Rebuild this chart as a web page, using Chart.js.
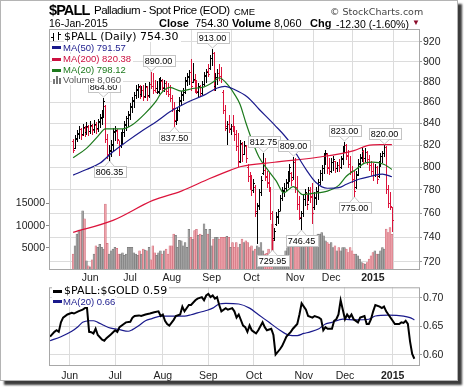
<!DOCTYPE html>
<html>
<head>
<meta charset="utf-8">
<script src="https://cdn.jsdelivr.net/npm/chart.js@4.4.1/dist/chart.umd.min.js"></script>
<style>
  body { margin: 0; background: #fff; font-family: 'Liberation Sans', Arial, sans-serif; }
  #frame { position: absolute; left: 0; top: 0; width: 458px; height: 381px; box-sizing: border-box;
           border: 1px solid #b4b4b4; box-shadow: 4px 4px 2px #3c3c3c; background: #fff; }
  canvas { position: absolute; left: 0; }
  .t { position: absolute; white-space: nowrap; line-height: 1; color: #000; }
  .b { font-weight: bold; }
  .dv { font-family: 'DejaVu Sans', Verdana, sans-serif; }
  .lg { background: #fff; padding-right: 2px; }
  .dash { position: absolute; width: 9px; height: 3px; }
</style>
</head>
<body>
<div id="frame"></div>
<canvas id="main" width="464" height="283" style="top:0"></canvas>
<canvas id="ratio" width="464" height="104" style="top:280px"></canvas>

<div class="t b" style="left:49px;top:2.5px;font-size:14.5px;letter-spacing:-0.9px">$PALL</div>
<div class="t" style="left:94px;top:5.3px;font-size:11.5px;letter-spacing:-0.5px">Palladium - Spot Price (EOD)</div>
<div class="t" style="left:234px;top:7px;font-size:9.5px">CME</div>
<div class="t dv" style="left:330px;top:6.5px;font-size:9.5px;color:#444">&copy; StockCharts.com</div>
<div class="t" style="left:49px;top:18px;font-size:10.5px">16-Jan-2015</div>
<div class="t b" style="left:159px;top:18px;font-size:11px">Close</div>
<div class="t" id="hClose" style="left:195px;top:18px;font-size:11px"></div>
<div class="t b" style="left:232px;top:18px;font-size:11px">Volume</div>
<div class="t" id="hVol" style="left:274px;top:18px;font-size:11px"></div>
<div class="t b" style="left:310px;top:18px;font-size:11px">Chg</div>
<div class="t" id="hChg" style="left:336px;top:18.5px;font-size:10.5px"></div>
<div class="t" style="left:412px;top:19px;font-size:8px;color:#8b0a2a">&#9660;</div>

<!-- price panel legend -->
<div class="t lg" style="left:51px;top:31px;width:10px;height:10px"></div>
<div class="dash" style="left:53px;top:33px;width:1px;height:8px;background:#000"></div>
<div class="dash" style="left:51px;top:37px;width:2px;height:1px;background:#000"></div>
<div class="dash" style="left:58px;top:32px;width:1px;height:8px;background:#000"></div>
<div class="dash" style="left:59px;top:34px;width:2px;height:1px;background:#000"></div>
<div class="t dv lg" id="lgPrice" style="left:64px;top:30.7px;font-size:11px"></div>
<div class="t lg" id="lgMa50" style="left:52px;top:42.7px;font-size:9.5px;color:#1a1a8c;padding-left:11px"></div>
<div class="dash" style="left:52px;top:46px;background:#1a1a8c"></div>
<div class="t lg" id="lgMa200" style="left:52px;top:54.3px;font-size:9.5px;color:#cc1040;padding-left:11px"></div>
<div class="dash" style="left:52px;top:57.5px;background:#cc1040"></div>
<div class="t lg" id="lgMa20" style="left:52px;top:65.3px;font-size:9.5px;color:#1d7a1d;padding-left:11px"></div>
<div class="dash" style="left:52px;top:68.5px;background:#1d7a1d"></div>
<div class="t lg" id="lgVol" style="left:52px;top:75.3px;font-size:9.5px;color:#555;padding-left:11px"></div>
<div class="dash" style="left:53px;top:79px;width:2px;height:5px;background:#777"></div>
<div class="dash" style="left:56px;top:76px;width:2px;height:8px;background:#777"></div>
<div class="dash" style="left:59px;top:78px;width:2px;height:6px;background:#777"></div>

<!-- ratio panel legend -->
<div class="t dv lg" id="lgRatio" style="left:52px;top:285px;font-size:11px;padding-left:12px"></div>
<div class="dash" style="left:53px;top:289.5px;background:#000"></div>
<div class="t lg" id="lgRatioMa" style="left:52px;top:297px;font-size:9.5px;color:#1a1a8c;padding-left:11px"></div>
<div class="dash" style="left:53px;top:300px;background:#1a1a8c"></div>

<script>
const FONT = "'Liberation Sans', Arial, sans-serif";

// trading days from 19 May 2014 (0) to 16 Jan 2015 (168)
const monthTicks = [9, 30, 52, 73, 94, 117, 136, 158];
const monthLabels = ['Jun', 'Jul', 'Aug', 'Sep', 'Oct', 'Nov', 'Dec', '2015'];
const priceTicks = [720, 740, 760, 780, 800, 820, 840, 860, 880, 900, 920];
const volumeTicks = [5000, 10000, 15000];
const ratioTicks = [0.60, 0.65, 0.70];

const highs = [
  826, 829, 834, 838, 836, 840, 838, 841, 839, 842,
  840, 843, 841, 844, 849, 853, 864.6, 858, 830, 820,
  825, 836, 838, 835, 824, 832, 835, 842, 847, 852,
  859, 865, 870, 877, 878, 877, 876, 877, 879, 876,
  880, 890, 889, 882, 881, 884, 885, 883, 882, 881,
  879, 877, 867, 860, 853, 856, 865, 871, 874, 885,
  889, 892, 903, 899, 888, 882, 879, 877, 881, 890,
  893, 898, 907, 913, 910, 889, 893, 898, 895, 872,
  858, 842, 848, 840, 848, 838, 834, 831, 825, 823,
  824, 820, 803, 796, 793, 790, 784, 769, 781, 792,
  812.75, 808, 797, 795, 783, 762, 748, 761, 764, 776,
  783, 786, 790, 797, 803, 796, 809, 808, 792, 775,
  762, 776, 781, 776, 783, 783, 786, 778, 783, 790,
  798, 802, 813, 816, 813, 808, 808, 810, 806, 805,
  807, 810, 819, 823, 821, 816, 810, 801, 797, 797,
  807, 812, 818, 816, 817, 815, 811, 806, 804, 803,
  801, 806, 813, 815, 820, 819, 784, 778, 765
];
const lows = [
  814, 817, 824, 827, 826, 829, 828, 830, 829, 831,
  830, 832, 831, 833, 837, 840, 846, 823, 808, 806.35,
  810, 815, 825, 822, 811, 818, 822, 828, 834, 838,
  844, 851, 856, 864, 865, 864, 866, 862, 865, 862,
  865, 874, 869, 871, 869, 869, 873, 872, 871, 868,
  866, 861, 852, 837.5, 840, 843, 852, 858, 862, 869,
  877, 878, 872, 880, 870, 869, 866, 866, 868, 877,
  880, 886, 893, 897, 872, 872, 878, 882, 880, 850,
  834, 821, 832, 830, 833, 825, 816, 801, 805, 806,
  812, 805, 788, 781, 776, 778, 758, 735, 764, 776,
  794, 789, 783, 779, 755, 729.95, 738, 750, 752, 763,
  771, 775, 780, 783, 788, 784, 790, 778, 764, 755,
  746.45, 758, 767, 764, 771, 770, 752, 764, 768, 772,
  785, 789, 795, 803, 795, 794, 796, 798, 796, 797,
  797, 799, 803, 814, 807, 800, 794, 787, 775, 782,
  793, 800, 806, 805, 806, 803, 798, 793, 789, 792,
  786, 791, 801, 805, 810, 777, 765, 764, 745
];
const opens = [
  824, 817, 826, 830, 835, 830, 836, 832, 837, 833,
  838, 835, 839, 836, 841, 845, 850, 857, 826, 811,
  815, 820, 832, 833, 825, 820, 829, 832, 839, 845,
  848, 856, 861, 867, 872, 875, 868, 872, 866, 875,
  867, 878, 876, 872, 874, 870, 878, 881, 874, 879,
  871, 868, 864, 855, 842, 849, 853, 861, 867, 870,
  881, 885, 890, 880, 882, 873, 870, 875, 869, 878,
  886, 891, 894, 904, 909, 876, 885, 889, 886, 870,
  853, 836, 840, 835, 838, 836, 830, 819, 806, 821,
  812, 819, 800, 792, 789, 780, 783, 760, 767, 778,
  795, 798, 791, 786, 781, 760, 739, 751, 757, 762,
  773, 779, 782, 786, 794, 795, 791, 805, 783, 768,
  756, 760, 772, 777, 768, 780, 775, 765, 773, 779,
  787, 795, 799, 809, 812, 800, 797, 805, 806, 799,
  802, 800, 807, 816, 820, 811, 803, 797, 790, 783,
  794, 803, 808, 815, 808, 814, 807, 802, 797, 793,
  800, 792, 803, 810, 813, 818, 781, 769, 765
];
const closes = [
  816, 827, 831, 835, 829, 837, 831, 838, 833, 839,
  834, 840, 835, 842, 846, 850, 861, 826, 812, 816,
  821, 833, 834, 826, 820, 830, 832, 840, 845, 849,
  857, 862, 867, 873, 876, 868, 872, 865, 876, 866,
  878, 876, 872, 870, 871, 879, 882, 875, 879, 871,
  868, 864, 855, 843, 850, 853, 862, 868, 870, 882,
  886, 890, 876, 883, 873, 871, 876, 869, 878, 887,
  890, 888, 904, 909, 876, 885, 889, 886, 883, 853,
  838, 840, 836, 838, 836, 830, 819, 805, 822, 812,
  820, 808, 792, 789, 780, 786, 762, 766, 778, 789,
  798, 792, 787, 782, 760, 738, 745, 758, 762, 773,
  780, 782, 787, 794, 800, 789, 805, 783, 768, 757,
  760, 772, 778, 768, 780, 774, 760, 774, 779, 787,
  795, 799, 810, 813, 799, 797, 805, 807, 799, 802,
  800, 808, 816, 820, 810, 803, 797, 790, 779, 793,
  804, 809, 815, 808, 814, 807, 802, 797, 793, 800,
  790, 803, 810, 813, 818, 781, 769, 766.6, 754.3
];
const volumes = [
  3600, 5460, 8100, 9000, 9000, 13360, 11550, 2070, 950, 700,
  2300, 3600, 5460, 5120, 5780, 5100, 4700, 14870, 6000, 3600,
  4300, 4700, 5100, 4900, 3600, 3600, 3900, 3300, 3600, 5100,
  5100, 5100, 3900, 3600, 3300, 4300, 3600, 4700, 4500, 4300,
  5100, 2300, 5460, 3900, 3300, 3900, 4300, 3600, 4300, 4700,
  3600, 5460, 5460, 8100, 7800, 5100, 6700, 6600, 5460, 6200,
  5100, 9200, 7400, 7000, 8900, 9200, 7800, 8100, 7800, 10400,
  9200, 8100, 9200, 5460, 7000, 7400, 7400, 7000, 7400, 7400,
  7400, 7600, 7400, 5100, 6200, 5100, 6200, 5080, 5840, 6970,
  6210, 6590, 6210, 5080, 5460, 4330, 4710, 5460, 5080, 6210,
  4330, 3590, 3740, 4700, 3800, 10360, 3590, 2820, 3200, 2820,
  2450, 2820, 4330, 5080, 5460, 5080, 5460, 5840, 6210, 7340,
  5840, 7340, 7340, 6970, 6590, 6970, 7340, 6970, 7340, 8100,
  8100, 8460, 7720, 6590, 6210, 5840, 6210, 5080, 5460, 4330,
  5080, 4330, 5080, 5080, 4710, 3960, 5080, 4330, 3590, 3590,
  3200, 2450, 1700, 1470, 1330, 1700, 2450, 3200, 3960, 4330,
  3590, 3590, 4330, 5080, 4710, 9220, 8460, 9600, 8060
];

// moving averages at the listed trading days
const ma50Days = [0, 7, 14, 21, 28, 37, 44, 51, 60, 69, 76, 80, 85, 92, 98, 106, 114, 118, 123, 128, 134, 140, 144, 151, 157, 163, 168];
const ma50Vals = [793, 798, 803.5, 814, 823, 834, 842, 851, 860, 867, 874, 875.5, 872.5, 865, 853.5, 839, 823, 811, 797.5, 786.5, 781.5, 782, 785, 789.6, 792, 794, 791.57];
const ma200Days = [0, 21, 42, 57, 72, 83, 88, 106, 129, 148, 155, 162, 168];
const ma200Vals = [744, 754, 771, 779, 790, 797.5, 800.5, 804.5, 809, 815, 819.5, 820.5, 820.38];
const ma20Days = [0, 7, 13, 17, 26, 31, 38, 44, 46, 51, 57, 63, 69, 74, 77, 82, 85, 88, 91, 95, 98, 102, 107, 111, 116, 121, 126, 134, 140, 144, 149, 154, 158, 164, 168];
const ma20Vals = [808.5, 817, 828, 835, 835, 838.6, 849.6, 862, 868, 874.5, 871, 873.5, 875, 880, 884, 876, 868, 858, 841, 821, 809, 799, 788, 777.5, 783, 776, 777, 779, 784, 792, 798, 804, 804.6, 802.5, 798.12];

// $PALL:$GOLD ratio and its MA(20)
const ratioDays = [0, 2, 3, 4, 5, 6, 8, 10, 11, 13, 15, 16, 17, 18, 19, 20, 21, 22, 24, 25, 26, 28, 30, 31, 32, 34, 35, 37, 38, 39, 41, 42, 44, 46, 48, 50, 51, 52, 53, 54, 55, 57, 58, 60, 61, 62, 64, 65, 67, 68, 70, 71, 72, 73, 74, 75, 76, 77, 78, 79, 81, 82, 84, 85, 86, 87, 89, 90, 91, 92, 93, 94, 95, 96, 98, 99, 100, 102, 103, 104, 106, 107, 108, 109, 111, 112, 114, 115, 116, 118, 119, 121, 122, 124, 125, 126, 127, 128, 130, 131, 132, 133, 134, 135, 136, 137, 138, 139, 140, 142, 143, 145, 146, 147, 148, 149, 150, 152, 153, 154, 155, 156, 158, 159, 161, 162, 163, 164, 165, 166, 167, 168];
const ratioVals = [0.6321, 0.6405, 0.6433, 0.6405, 0.6572, 0.6655, 0.671, 0.6738, 0.6727, 0.6766, 0.6794, 0.6822, 0.6835, 0.6405, 0.640, 0.6377, 0.646, 0.6349, 0.6266, 0.6249, 0.6294, 0.636, 0.6433, 0.6405, 0.6488, 0.6544, 0.6572, 0.6583, 0.6655, 0.6683, 0.6694, 0.6683, 0.671, 0.6727, 0.6749, 0.6766, 0.6683, 0.671, 0.66, 0.6544, 0.6516, 0.6616, 0.6683, 0.671, 0.6849, 0.6766, 0.6877, 0.6877, 0.696, 0.6988, 0.7016, 0.696, 0.7044, 0.7072, 0.7016, 0.7044, 0.6988, 0.7016, 0.6877, 0.6766, 0.6822, 0.6794, 0.6822, 0.6766, 0.6655, 0.671, 0.6516, 0.6488, 0.6405, 0.6516, 0.6433, 0.6405, 0.6377, 0.6433, 0.6572, 0.6488, 0.6433, 0.646, 0.6349, 0.6005, 0.6099, 0.6155, 0.6238, 0.6321, 0.6405, 0.646, 0.6544, 0.671, 0.6905, 0.6794, 0.6683, 0.6655, 0.6683, 0.6655, 0.6627, 0.6433, 0.6488, 0.646, 0.646, 0.66, 0.6627, 0.671, 0.696, 0.6794, 0.6627, 0.671, 0.6655, 0.671, 0.6627, 0.6572, 0.6655, 0.6683, 0.6544, 0.6544, 0.6627, 0.6766, 0.6877, 0.6849, 0.6822, 0.6849, 0.6766, 0.671, 0.66, 0.6544, 0.6544, 0.6572, 0.6561, 0.66, 0.6544, 0.6238, 0.6016, 0.5933];
const ratioMaDays = [0, 5, 10, 13, 15, 18, 20, 22, 25, 28, 32, 36, 38, 41, 44, 47, 51, 56, 62, 65, 68, 72, 75, 78, 81, 87, 92, 96, 101, 106, 110, 114, 117, 120, 124, 127, 130, 135, 141, 147, 150, 156, 163, 166, 168];
const ratioMaVals = [0.6249, 0.632, 0.6416, 0.65, 0.6572, 0.66, 0.66, 0.6572, 0.6516, 0.647, 0.6444, 0.6416, 0.6444, 0.6516, 0.66, 0.6638, 0.6683, 0.6683, 0.6683, 0.6705, 0.6738, 0.678, 0.6822, 0.6894, 0.6905, 0.6894, 0.6822, 0.671, 0.6572, 0.6433, 0.6349, 0.634, 0.6377, 0.6405, 0.646, 0.6544, 0.6572, 0.6627, 0.6616, 0.6627, 0.6683, 0.67, 0.6683, 0.6655, 0.6616];

// high / low callouts (trading day, which end)
const callouts = [
  { i: 16, up: true }, { i: 41, up: true, dx: 7 }, { i: 73, up: true }, { i: 100, up: true },
  { i: 116, up: true }, { i: 143, up: true }, { i: 164, up: true },
  { i: 19, up: false }, { i: 53, up: false }, { i: 105, up: false }, { i: 120, up: false }, { i: 148, up: false }
];

const RED = '#dc143c';
const last = closes.length - 1;
const isDown = closes.map((c, i) => c < (i ? closes[i - 1] : opens[i]));
const barColors = isDown.map(d => d ? RED : '#000');

const fmt2 = v => v.toFixed(2);
const chg = closes[last] - closes[last - 1];
document.getElementById('hClose').textContent = fmt2(closes[last]);
document.getElementById('hVol').textContent = volumes[last].toLocaleString('en-US');
document.getElementById('hChg').textContent = fmt2(chg) + ' (' + fmt2(chg / closes[last - 1] * 100) + '%)';
document.getElementById('lgPrice').textContent = '$PALL (Daily) ' + fmt2(closes[last]);
document.getElementById('lgMa50').textContent = 'MA(50) ' + fmt2(ma50Vals[ma50Vals.length - 1]);
document.getElementById('lgMa200').textContent = 'MA(200) ' + fmt2(ma200Vals[ma200Vals.length - 1]);
document.getElementById('lgMa20').textContent = 'MA(20) ' + fmt2(ma20Vals[ma20Vals.length - 1]);
document.getElementById('lgVol').textContent = 'Volume ' + volumes[last].toLocaleString('en-US');
document.getElementById('lgRatio').textContent = '$PALL:$GOLD ' + fmt2(ratioVals[ratioVals.length - 1]);
document.getElementById('lgRatioMa').textContent = 'MA(20) ' + fmt2(ratioMaVals[ratioMaVals.length - 1]);

const pts = (days, vals) => days.map((d, k) => ({ x: d, y: vals[k] }));

const plotFrame = {
  id: 'plotFrame',
  afterDraw(chart) {
    const { ctx, chartArea: a } = chart;
    ctx.save();
    ctx.strokeStyle = '#a8a8a8';
    ctx.lineWidth = 1;
    ctx.strokeRect(a.left + 0.5, a.top + 0.5, a.right - a.left - 1, a.bottom - a.top - 1);
    ctx.restore();
  }
};

// OHLC bars, drawn right after the volume dataset so the MA lines sit on top
const VOLUME_DS = 3;
const ohlcBars = {
  id: 'ohlcBars',
  afterDatasetDraw(chart, args) {
    if (args.index !== VOLUME_DS) return;
    const { ctx, scales: { x, y } } = chart;
    ctx.save();
    ctx.lineWidth = 1;
    closes.forEach((c, i) => {
      const px = Math.round(x.getPixelForValue(i)) + 0.5;
      const yh = Math.round(y.getPixelForValue(highs[i]));
      const yl = Math.round(y.getPixelForValue(lows[i])) + 1;
      const yo = Math.round(y.getPixelForValue(opens[i])) + 0.5;
      const yc = Math.round(y.getPixelForValue(c)) + 0.5;
      ctx.strokeStyle = barColors[i];
      ctx.beginPath();
      ctx.moveTo(px, yh); ctx.lineTo(px, yl);
      ctx.moveTo(px - 1.5, yo); ctx.lineTo(px, yo);
      ctx.moveTo(px, yc); ctx.lineTo(px + 1.5, yc);
      ctx.stroke();
    });
    ctx.restore();
  }
};

const calloutLabels = {
  id: 'calloutLabels',
  afterDatasetsDraw(chart) {
    const { ctx, scales: { x, y } } = chart;
    ctx.save();
    ctx.font = '9px ' + FONT;
    ctx.textAlign = 'center';
    ctx.textBaseline = 'middle';
    callouts.forEach(c => {
      const v = c.up ? highs[c.i] : lows[c.i];
      const px = Math.round(x.getPixelForValue(c.i)) + 0.5;
      const py = Math.round(y.getPixelForValue(v));
      const txt = fmt2(v);
      const w = Math.round(ctx.measureText(txt).width) + 4, h = 11;
      const cx = px + (c.dx || 0);
      const bx = Math.round(cx - w / 2) + 0.5;
      const by = c.up ? py - 6 - h + 0.5 : py + 6 + 0.5;
      const edge = c.up ? by + h : by;
      const tip = c.up ? py - 1 : py + 1;
      ctx.fillStyle = '#fff';
      ctx.strokeStyle = '#c4c4c4';
      ctx.fillRect(bx, by, w, h);
      ctx.strokeRect(bx, by, w, h);
      ctx.beginPath();
      ctx.moveTo(px - 5, edge); ctx.lineTo(px, tip); ctx.lineTo(px + 5, edge);
      ctx.fill();
      ctx.stroke();
      ctx.fillStyle = '#000';
      ctx.fillText(txt, cx, by + h / 2 + 0.5);
    });
    ctx.restore();
  }
};

const xScale = (height, pad) => ({
  type: 'linear',
  min: -0.5,
  max: 170.6,
  afterFit: s => { s.height = height; },
  afterBuildTicks: s => { s.ticks = monthTicks.map(v => ({ value: v })); },
  ticks: {
    autoSkip: false,
    maxRotation: 0,
    padding: pad,
    color: '#222',
    callback: v => monthLabels[monthTicks.indexOf(v)],
    font: c => ({ family: FONT, size: 10.5,
      weight: /^\d{4}$/.test(monthLabels[monthTicks.indexOf(c.tick && c.tick.value)]) ? 'bold' : 'normal' })
  },
  grid: { color: '#dcdcdc', drawTicks: false },
  border: { display: false }
});

new Chart(document.getElementById('main'), {
  type: 'bar',
  data: {
    datasets: [
      { type: 'line', data: pts(ma50Days, ma50Vals), yAxisID: 'y', borderColor: '#1a1a8c', borderWidth: 1.2,
        pointRadius: 0, cubicInterpolationMode: 'monotone', order: 1 },
      { type: 'line', data: pts(ma200Days, ma200Vals), yAxisID: 'y', borderColor: RED, borderWidth: 1.2,
        pointRadius: 0, cubicInterpolationMode: 'monotone', order: 2 },
      { type: 'line', data: pts(ma20Days, ma20Vals), yAxisID: 'y', borderColor: '#1d7a1d', borderWidth: 1.2,
        pointRadius: 0, cubicInterpolationMode: 'monotone', order: 3 },
      { type: 'bar', data: volumes.map((v, i) => ({ x: i, y: v })), yAxisID: 'yv',
        backgroundColor: isDown.map(d => d ? '#eea3ab' : '#a3a3a3'),
        borderColor: isDown.map(d => d ? '#c8606e' : '#6e6e6e'), borderWidth: 0.5,
        barPercentage: 1, categoryPercentage: 1, grouped: false, order: 5 }
    ]
  },
  options: {
    responsive: false,
    animation: false,
    events: [],
    layout: { padding: { top: 29, left: 0, right: 0, bottom: 0 } },
    plugins: { legend: { display: false }, tooltip: { enabled: false } },
    scales: {
      x: xScale(13, 2),
      y: {
        type: 'logarithmic',
        position: 'right',
        min: 713.4,
        max: 933.4,
        afterFit: s => { s.width = 44; },
        afterBuildTicks: s => { s.ticks = priceTicks.map(v => ({ value: v })); },
        ticks: { padding: 1, color: '#222', font: { family: FONT, size: 10.5 }, callback: v => String(v) },
        grid: { color: '#dcdcdc', tickLength: 2, tickColor: '#999' },
        border: { display: false }
      },
      yv: {
        type: 'linear',
        position: 'left',
        min: 0,
        max: 54400,
        afterFit: s => { s.width = 49; },
        afterBuildTicks: s => { s.ticks = volumeTicks.map(v => ({ value: v })); },
        ticks: { padding: 1, color: '#222', font: { family: FONT, size: 10.5 }, callback: v => String(v) },
        grid: { drawOnChartArea: false, tickLength: 3, color: '#888' },
        border: { display: false }
      }
    }
  },
  plugins: [ohlcBars, calloutLabels, plotFrame]
});

new Chart(document.getElementById('ratio'), {
  type: 'line',
  data: {
    datasets: [
      { data: pts(ratioDays, ratioVals), borderColor: '#000', borderWidth: 2, pointRadius: 0, order: 1 },
      { data: pts(ratioMaDays, ratioMaVals), borderColor: '#1a1a8c', borderWidth: 1.2, pointRadius: 0,
        cubicInterpolationMode: 'monotone', order: 2 }
    ]
  },
  options: {
    responsive: false,
    animation: false,
    events: [],
    layout: { padding: { top: 3, left: 49, right: 0, bottom: 0 } },
    plugins: { legend: { display: false }, tooltip: { enabled: false } },
    scales: {
      x: xScale(18, 4),
      y: {
        type: 'linear',
        position: 'right',
        min: 0.5805,
        max: 0.7188,
        afterFit: s => { s.width = 44; },
        afterBuildTicks: s => { s.ticks = ratioTicks.map(v => ({ value: v })); },
        ticks: { padding: 1, color: '#222', font: { family: FONT, size: 10.5 }, callback: v => v.toFixed(2) },
        grid: { color: '#dcdcdc', tickLength: 2, tickColor: '#999' },
        border: { display: false }
      }
    }
  },
  plugins: [plotFrame]
});
</script>
</body>
</html>
